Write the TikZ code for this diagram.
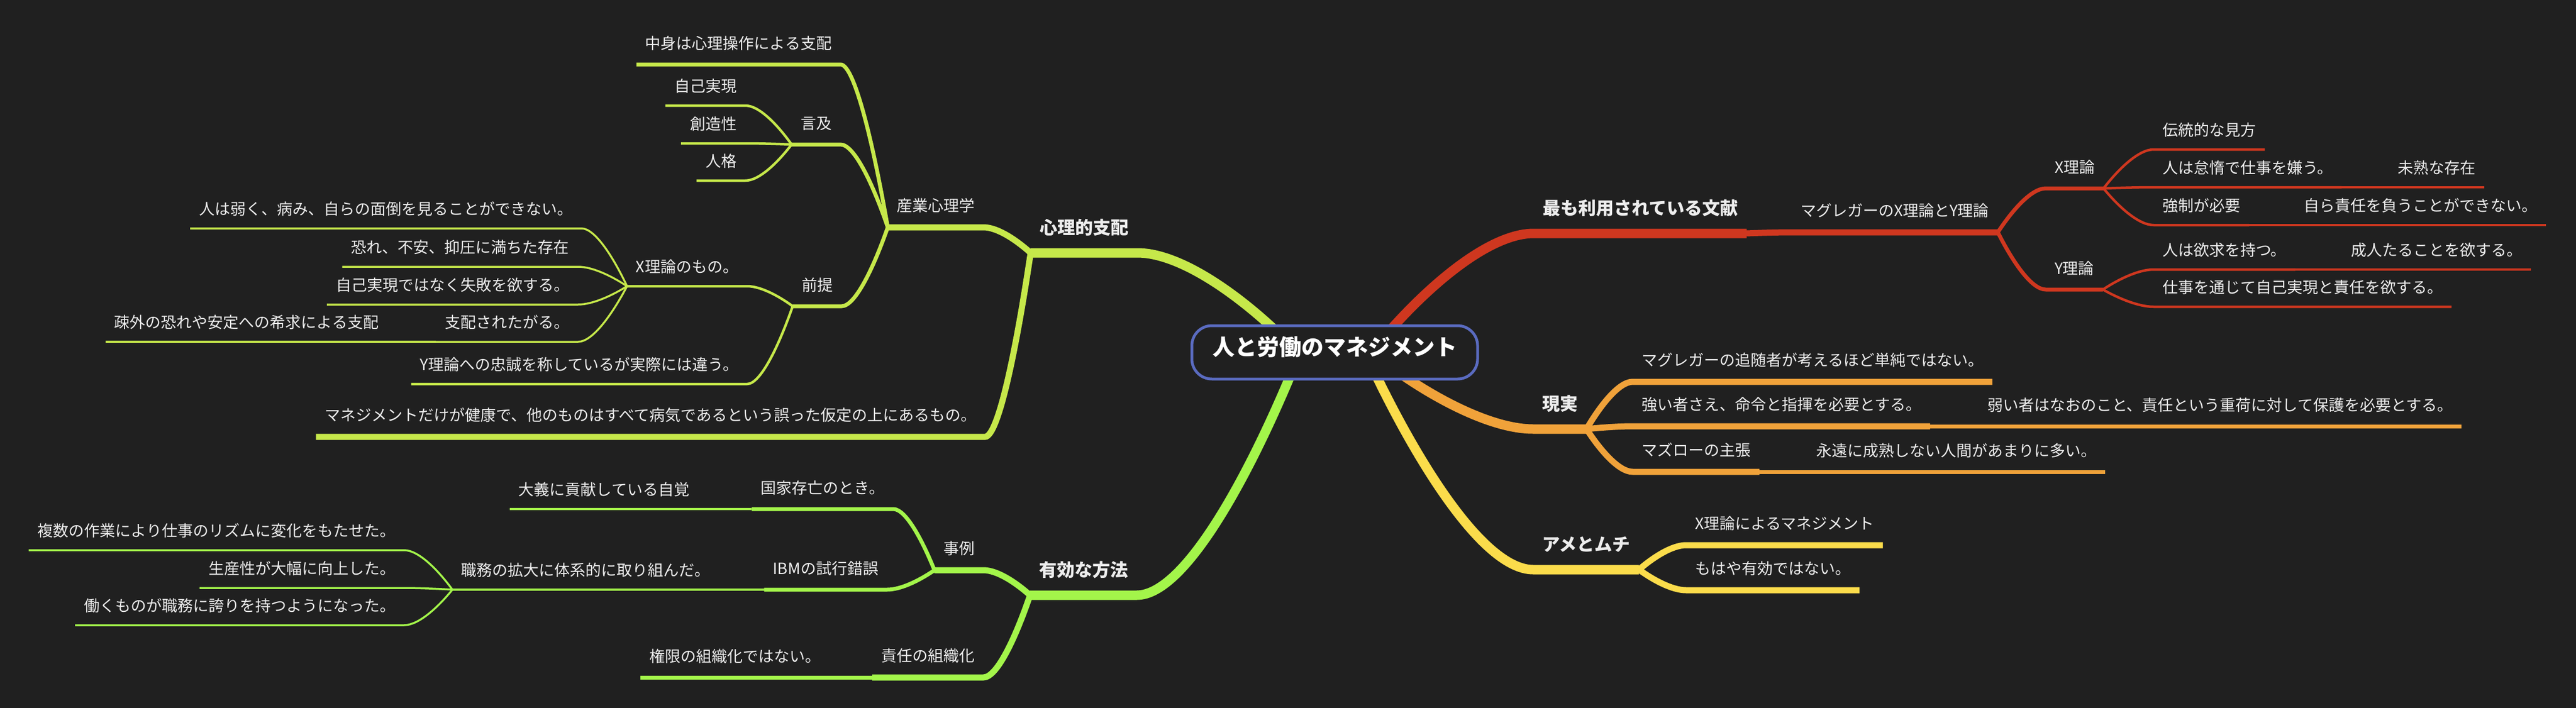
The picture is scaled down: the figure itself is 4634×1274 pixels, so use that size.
\documentclass[tikz,border=0pt]{standalone}
\usepackage{fontspec}
\setmainfont{Noto Sans CJK JP}
\usetikzlibrary{calc,backgrounds}

\definecolor{bgcol}{HTML}{202020}
\definecolor{inkcol}{HTML}{EDEDED}
\definecolor{hubcol}{HTML}{5A6BC0}
\definecolor{psycol}{HTML}{C6E84A}
\definecolor{effcol}{HTML}{A3F54A}
\definecolor{carcol}{HTML}{FBDC4B}
\definecolor{realcol}{HTML}{F0A23A}
\definecolor{litcol}{HTML}{CF371F}

\tikzset{
  topic/.style={text=inkcol, inner xsep=16pt, outer sep=0pt, text depth=0pt},
  lvl1/.style={topic, font=\fontsize{32}{38}\selectfont\bfseries, inner ysep=34pt},
  lvl2/.style={topic, font=\fontsize{28}{34}\selectfont, inner ysep=29pt},
  lvl3/.style={topic, font=\fontsize{28}{34}\selectfont, inner ysep=28pt},
  lvl4/.style={topic, font=\fontsize{28}{34}\selectfont, inner ysep=25pt},
  lvl5/.style={lvl4},
  rt/.style={anchor=south west},
  lf/.style={anchor=south east},
  hub/.style={draw=hubcol, line width=5pt, fill=bgcol, rounded corners=36pt,
    minimum width=514pt, minimum height=96pt, inner sep=0pt, text=white,
    font=\fontsize{40}{46}\selectfont\bfseries, text height=35pt, text depth=25pt},
  bough/.style={to path={let \p1=(\tikztostart), \p2=(\tikztotarget) in
    .. controls ({\x1+0.3*(\x2-\x1)},{\y1+0.5*(\y2-\y1)})
    and ({\x2-0.3*(\x2-\x1)},\y2) .. (\tikztotarget)}},
  w1/.style={line width=17pt},
  w2/.style={line width=11pt},
  w3/.style={line width=7pt},
  w4/.style={line width=4.5pt},
  w5/.style={line width=3.5pt}
}

\begin{document}
\begin{tikzpicture}[x=1pt,y=-1pt]
  \useasboundingbox (0,0) rectangle (4634,1274);

  \node[hub] (hub) at (2401,634) {人と労働のマネジメント};
  \coordinate (psyRoot) at ([xshift=-110pt,yshift=-8pt]hub.north);
  \coordinate (litRoot) at ([xshift=102pt,yshift=-8pt]hub.north);
  \coordinate (realRoot) at ([xshift=124pt,yshift=8pt]hub.south);
  \coordinate (carRoot) at ([xshift=75pt,yshift=8pt]hub.south);
  \coordinate (effRoot) at ([xshift=-80pt,yshift=8pt]hub.south);

  % right: literature
  \node[lvl1,rt] (lit) at (2759,420) {最も利用されている文献};
  \node[lvl2,rt] (mcg) at (3223,418) {マグレガーのX理論とY理論};
  \node[lvl3,rt] (xth) at (3680,339) {X理論};
  \node[lvl3,rt] (yth) at (3680,521) {Y理論};
  \node[lvl4,rt] (trad) at (3874,269) {伝統的な見方};
  \node[lvl4,rt] (lazy) at (3874,337) {人は怠惰で仕事を嫌う。};
  \node[lvl5,rt] (immat) at (4297,337) {未熟な存在};
  \node[lvl4,rt] (force) at (3874,405) {強制が必要};
  \node[lvl5,rt] (norsp) at (4128,405) {自ら責任を負うことができない。};
  \node[lvl4,rt] (desire) at (3874,485) {人は欲求を持つ。};
  \node[lvl5,rt] (adult) at (4213,485) {成人たることを欲する。};
  \node[lvl4,rt] (selfre) at (3874,552) {仕事を通じて自己実現と責任を欲する。};

  % right: reality
  \node[lvl1,rt] (real) at (2758,772) {現実};
  \node[lvl2,rt] (follow) at (2937,687) {マグレガーの追随者が考えるほど単純ではない。};
  \node[lvl2,rt] (strong) at (2937,767) {強い者さえ、命令と指揮を必要とする。};
  \node[lvl3,rt] (weak) at (3559,767) {弱い者はなおのこと、責任という重荷に対して保護を必要とする。};
  \node[lvl2,rt] (maslow) at (2937,849) {マズローの主張};
  \node[lvl3,rt] (never) at (3251,849) {永遠に成熟しない人間があまりに多い。};

  % right: carrot and stick
  \node[lvl1,rt] (carrot) at (2758,1025) {アメとムチ};
  \node[lvl2,rt] (xmgmt) at (3033,981) {X理論によるマネジメント};
  \node[lvl2,rt] (noeff) at (3033,1062) {もはや有効ではない。};

  % left: psychological control
  \node[lvl1,lf] (psy) at (2046,455) {心理的支配};
  \node[lvl2,lf] (ind) at (1769,409) {産業心理学};
  \node[lvl3,lf] (core) at (1512,116) {中身は心理操作による支配};
  \node[lvl3,lf] (ment) at (1512,260) {言及};
  \node[lvl4,lf] (selfa) at (1341,190) {自己実現};
  \node[lvl4,lf] (creat) at (1341,258) {創造性};
  \node[lvl4,lf] (pers) at (1341,325) {人格};
  \node[lvl3,lf] (prem) at (1514,551) {前提};
  \node[lvl4,lf] (xthm) at (1344,515) {X理論のもの。};
  \node[lvl4,lf] (ythm) at (1344,691) {Y理論への忠誠を称しているが実際には違う。};
  \node[lvl5,lf] (weak2) at (1046,411) {人は弱く、病み、自らの面倒を見ることができない。};
  \node[lvl5,lf] (fear) at (1040,480) {恐れ、不安、抑圧に満ちた存在};
  \node[lvl5,lf] (fail) at (1040,548) {自己実現ではなく失敗を欲する。};
  \node[lvl5,lf] (rule) at (1040,615) {支配されたがる。};
  \node[lvl5,lf] (alien) at (697,615) {疎外の恐れや安定への希求による支配};
  \node[lvl2,lf] (mgmt) at (1772,786) {マネジメントだけが健康で、他のものはすべて病気であるという誤った仮定の上にあるもの。};

  % left: effective method
  \node[lvl1,lf] (eff) at (2045,1071) {有効な方法};
  \node[lvl2,lf] (case) at (1769,1026) {事例};
  \node[lvl3,lf] (nation) at (1607,916) {国家存亡のとき。};
  \node[lvl4,lf] (cause) at (1256,916) {大義に貢献している自覚};
  \node[lvl3,lf] (ibm) at (1596,1061) {IBMの試行錯誤};
  \node[lvl4,lf] (expand) at (1293,1061) {職務の拡大に体系的に取り組んだ。};
  \node[lvl5,lf] (multi) at (727,990) {複数の作業により仕事のリズムに変化をもたせた。};
  \node[lvl5,lf] (prod) at (727,1058) {生産性が大幅に向上した。};
  \node[lvl5,lf] (proud) at (727,1125) {働くものが職務に誇りを持つようになった。};
  \node[lvl2,lf] (org) at (1769,1219) {責任の組織化};
  \node[lvl3,lf] (resp) at (1492,1219) {権限の組織化ではない。};

  \begin{scope}[on background layer, bough, line cap=round, line join=round]
    \fill[bgcol] (0,0) rectangle (4634,1274);

    \draw[litcol,w1] (litRoot) to (lit.south west) -- (lit.south east);
    \draw[litcol,w2] (lit.south east) to (mcg.south west) -- (mcg.south east);
    \draw[litcol,w3] (mcg.south east) to (xth.south west) -- (xth.south east);
    \draw[litcol,w3] (mcg.south east) to (yth.south west) -- (yth.south east);
    \draw[litcol,w4] (xth.south east) to (trad.south west) -- (trad.south east);
    \draw[litcol,w4] (xth.south east) to (lazy.south west) -- (lazy.south east);
    \draw[litcol,w4] (xth.south east) to (force.south west) -- (force.south east);
    \draw[litcol,w5] (lazy.south east) to (immat.south west) -- (immat.south east);
    \draw[litcol,w5] (force.south east) to (norsp.south west) -- (norsp.south east);
    \draw[litcol,w4] (yth.south east) to (desire.south west) -- (desire.south east);
    \draw[litcol,w4] (yth.south east) to (selfre.south west) -- (selfre.south east);
    \draw[litcol,w5] (desire.south east) to (adult.south west) -- (adult.south east);

    \draw[realcol,w1] (realRoot) to (real.south west) -- (real.south east);
    \draw[realcol,w2] (real.south east) to (follow.south west) -- (follow.south east);
    \draw[realcol,w2] (real.south east) to (strong.south west) -- (strong.south east);
    \draw[realcol,w2] (real.south east) to (maslow.south west) -- (maslow.south east);
    \draw[realcol,w3] (strong.south east) to (weak.south west) -- (weak.south east);
    \draw[realcol,w3] (maslow.south east) to (never.south west) -- (never.south east);

    \draw[carcol,w1] (carRoot) to (carrot.south west) -- (carrot.south east);
    \draw[carcol,w2] (carrot.south east) to (xmgmt.south west) -- (xmgmt.south east);
    \draw[carcol,w2] (carrot.south east) to (noeff.south west) -- (noeff.south east);

    \draw[psycol,w1] (psyRoot) to (psy.south east) -- (psy.south west);
    \draw[psycol,w2] (psy.south west) to (ind.south east) -- (ind.south west);
    \draw[psycol,w2] (psy.south west) to (mgmt.south east) -- (mgmt.south west);
    \draw[psycol,w3] (ind.south west) to (core.south east) -- (core.south west);
    \draw[psycol,w3] (ind.south west) to (ment.south east) -- (ment.south west);
    \draw[psycol,w3] (ind.south west) to (prem.south east) -- (prem.south west);
    \draw[psycol,w4] (ment.south west) to (selfa.south east) -- (selfa.south west);
    \draw[psycol,w4] (ment.south west) to (creat.south east) -- (creat.south west);
    \draw[psycol,w4] (ment.south west) to (pers.south east) -- (pers.south west);
    \draw[psycol,w4] (prem.south west) to (xthm.south east) -- (xthm.south west);
    \draw[psycol,w4] (prem.south west) to (ythm.south east) -- (ythm.south west);
    \draw[psycol,w5] (xthm.south west) to (weak2.south east) -- (weak2.south west);
    \draw[psycol,w5] (xthm.south west) to (fear.south east) -- (fear.south west);
    \draw[psycol,w5] (xthm.south west) to (fail.south east) -- (fail.south west);
    \draw[psycol,w5] (xthm.south west) to (rule.south east) -- (rule.south west);
    \draw[psycol,w5] (rule.south west) to (alien.south east) -- (alien.south west);

    \draw[effcol,w1] (effRoot) to (eff.south east) -- (eff.south west);
    \draw[effcol,w2] (eff.south west) to (case.south east) -- (case.south west);
    \draw[effcol,w2] (eff.south west) to (org.south east) -- (org.south west);
    \draw[effcol,w3] (case.south west) to (nation.south east) -- (nation.south west);
    \draw[effcol,w3] (case.south west) to (ibm.south east) -- (ibm.south west);
    \draw[effcol,w4] (nation.south west) to (cause.south east) -- (cause.south west);
    \draw[effcol,w4] (ibm.south west) to (expand.south east) -- (expand.south west);
    \draw[effcol,w5] (expand.south west) to (multi.south east) -- (multi.south west);
    \draw[effcol,w5] (expand.south west) to (prod.south east) -- (prod.south west);
    \draw[effcol,w5] (expand.south west) to (proud.south east) -- (proud.south west);
    \draw[effcol,w3] (org.south west) to (resp.south east) -- (resp.south west);
  \end{scope}
\end{tikzpicture}
\end{document}
